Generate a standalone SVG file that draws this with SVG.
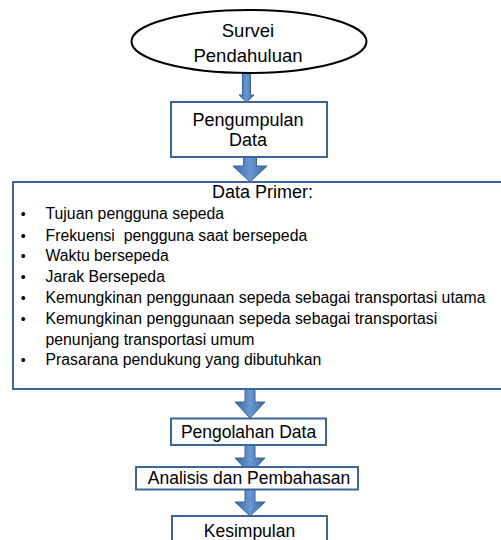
<svg xmlns="http://www.w3.org/2000/svg" width="501" height="540" viewBox="0 0 501 540">
<defs>
<linearGradient id="ag" x1="0" y1="0" x2="1" y2="0">
<stop offset="0" stop-color="#3b67a3"/>
<stop offset="0.5" stop-color="#6a97d1"/>
<stop offset="1" stop-color="#3b67a3"/>
</linearGradient>
<style>
text{font-family:"Liberation Sans",Arial,sans-serif;fill:#000}
.box{fill:#fff;stroke:#3d679c;stroke-width:2}
.arr{fill:url(#ag);stroke:#3a6597;stroke-width:1}
.c{text-anchor:middle}
.b{font-size:15.8px}
.dot{text-anchor:middle;font-size:14px}
</style>
</defs>
<rect width="501" height="540" fill="#fff"/>
<g id="connectors">
<polygon class="arr" points="242.5,73 250.5,73 250.5,95 254,95 246.5,102 239,95 242.5,95"/>
<polygon class="arr" points="243.5,157 256.5,157 256.5,166 267,166 250,182 233,166 243.5,166"/>
<polygon class="arr" points="245,389 255,389 255,402 265,402 250,418 235,402 245,402"/>
<polygon class="arr" points="245,445 255,445 255,458 265,458 250,474 235,458 245,458"/>
<polygon class="arr" points="245,489 255,489 255,502 265,502 250,516 235,502 245,502"/>
</g>
<g id="survei">
<ellipse cx="249" cy="41.5" rx="117.5" ry="31.5" fill="#fff" stroke="#000" stroke-width="2"/>
<text class="c" x="248" y="37" font-size="18.5">Survei</text>
<text class="c" x="248" y="61.5" font-size="18.5">Pendahuluan</text>
</g>
<g id="pengumpulan">
<rect class="box" x="171" y="102" width="156" height="55"/>
<text class="c" x="248" y="126" font-size="18">Pengumpulan</text>
<text class="c" x="248" y="146" font-size="18">Data</text>
</g>
<g id="dataprimer">
<rect class="box" x="13" y="182" width="500" height="207"/>
<text class="c" x="262.5" y="198" font-size="18">Data Primer:</text>
<text class="dot" x="23.3" y="219.3">•</text>
<text class="dot" x="23.3" y="240.5">•</text>
<text class="dot" x="23.3" y="261">•</text>
<text class="dot" x="23.3" y="282">•</text>
<text class="dot" x="23.3" y="303">•</text>
<text class="dot" x="23.3" y="323.5">•</text>
<text class="dot" x="23.3" y="365">•</text>
<g class="b">
<text x="45.5" y="219.3">Tujuan pengguna sepeda</text>
<text x="45.5" y="240.5" xml:space="preserve">Frekuensi  pengguna saat bersepeda</text>
<text x="45.5" y="261">Waktu bersepeda</text>
<text x="45.5" y="282">Jarak Bersepeda</text>
<text x="45.5" y="303">Kemungkinan penggunaan sepeda sebagai transportasi utama</text>
<text x="45.5" y="323.5">Kemungkinan penggunaan sepeda sebagai transportasi</text>
<text x="45.5" y="344.5">penunjang transportasi umum</text>
<text x="45.5" y="365">Prasarana pendukung yang dibutuhkan</text>
</g>
</g>
<g id="pengolahan">
<rect class="box" x="171" y="418.5" width="155" height="26.5"/>
<text class="c" x="248.5" y="438.3" font-size="17.5">Pengolahan Data</text>
</g>
<g id="analisis">
<rect class="box" x="136" y="467" width="222" height="22.5"/>
<text class="c" x="249" y="484" font-size="17.5">Analisis dan Pembahasan</text>
</g>
<g id="kesimpulan">
<rect class="box" x="172" y="516" width="155" height="40"/>
<text class="c" x="249.5" y="536.5" font-size="17.5">Kesimpulan</text>
</g>
</svg>
